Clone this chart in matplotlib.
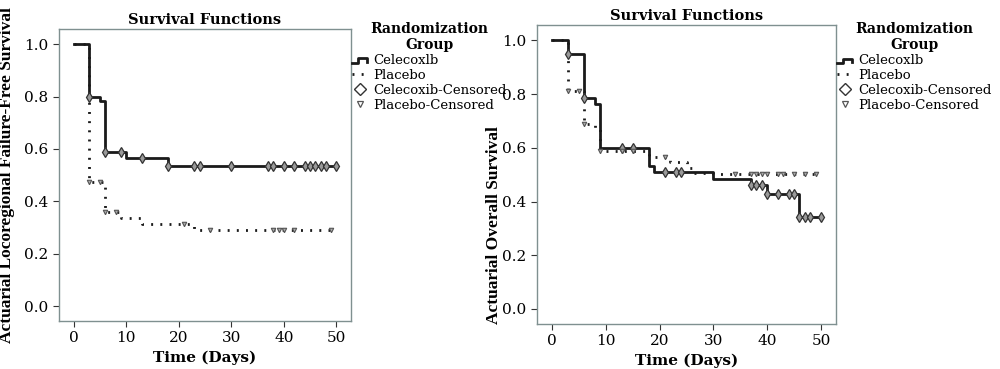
import numpy as np
import matplotlib as mpl
mpl.use('Agg')
import matplotlib.pyplot as plt
from matplotlib.lines import Line2D
from matplotlib.legend_handler import HandlerBase

# locoregional failure-free survival (left panel)
lr_cel_t = [0, 3, 5, 6, 10, 18, 50]
lr_cel_s = [1.0, 0.80, 0.783, 0.59, 0.565, 0.535, 0.535]
lr_cel_cens = [3, 6, 9, 13, 18, 23, 24, 30, 37, 38, 40, 42, 44, 45, 46, 47, 48, 50]
lr_pla_t = [0, 3, 6, 9, 13, 23, 49]
lr_pla_s = [1.0, 0.475, 0.36, 0.337, 0.315, 0.29, 0.29]
lr_pla_cens = [3, 5, 6, 8, 21, 26, 38, 39, 40, 42, 49]

# overall survival (right panel)
os_cel_t = [0, 3, 6, 8, 9, 18, 19, 30, 37, 40, 46, 50]
os_cel_s = [1.0, 0.95, 0.785, 0.764, 0.60, 0.531, 0.51, 0.485, 0.46, 0.428, 0.341, 0.341]
os_cel_cens = [3, 6, 13, 15, 21, 23, 24, 37, 38, 39, 40, 42, 44, 45, 46, 47, 48, 50]
os_pla_t = [0, 3, 6, 8, 9, 18, 22, 25, 26, 30, 49]
os_pla_s = [1.0, 0.812, 0.688, 0.67, 0.59, 0.567, 0.546, 0.525, 0.506, 0.502, 0.502]
os_pla_cens = [3, 5, 6, 9, 13, 15, 21, 34, 37, 38, 39, 40, 42, 43, 45, 47, 49]

legend_labels = ["Celecoxlb", "Placebo", "Celecoxib-Censored", "Placebo-Censored"]
ylabels = ["Actuarial Locoregional Failure-Free Survival", "Actuarial Overall Survival"]

plt.rcParams['font.family'] = ['DejaVu Serif']
line_col = "#1a1a1a"
mark_col = "#333333"
spine_col = "#7f9090"
dot_style = (0, (0.7, 2.6))


class StepHandler(HandlerBase):
    # little step icon like the SPSS legend
    def create_artists(self, legend, orig_handle, xdescent, ydescent, width, height, fontsize, trans):
        x0 = -xdescent
        y0 = -ydescent
        xs = [x0, x0 + 0.4 * width, x0 + 0.4 * width, x0 + width, x0 + width]
        ys = [y0 + 0.1 * height, y0 + 0.1 * height, y0 + 0.6 * height, y0 + 0.6 * height, y0 + 0.25 * height]
        ln = Line2D(xs, ys, color=line_col, lw=2.0, transform=trans)
        return [ln]


def step_at(t, s, tc):
    # survival value just after time tc
    idx = np.searchsorted(np.array(t), np.array(tc), side='right') - 1
    return np.array(s)[idx]


def panel(ax, ct, cs, ccens, pt, ps, pcens, ylab, ylab_xy, leg_y):
    ax.step(ct, cs, where='post', color=line_col, lw=2.0)
    ax.step(pt, ps, where='post', color=line_col, lw=2.0, linestyle=dot_style)
    ax.plot(ccens, step_at(ct, cs, ccens), linestyle='none', marker='d', ms=5,
            mfc='#9a9a9a', mec=mark_col, mew=0.9)
    ax.plot(pcens, step_at(pt, ps, pcens), linestyle='none', marker='v', ms=3.2,
            mfc='#aaaaaa', mec='#555555', mew=0.8)
    ax.set_xlim(-2.8, 52.8)
    ax.set_ylim(-0.056, 1.057)
    ax.set_xticks([0, 10, 20, 30, 40, 50])
    ax.set_yticks([0.0, 0.2, 0.4, 0.6, 0.8, 1.0])
    ax.set_yticklabels(["%.1f" % v for v in ax.get_yticks()])
    ax.tick_params(labelsize=11, length=4, width=0.8, color='#333333')
    for sp in ax.spines.values():
        sp.set_color(spine_col)
        sp.set_linewidth(1.0)
    ax.set_title("Survival Functions", fontsize=10.5, fontweight='bold', pad=4)
    ax.set_xlabel("Time (Days)", fontsize=11, fontweight='bold', labelpad=4)
    ax.set_ylabel(ylab, fontsize=12.5, fontweight='bold', family=['Liberation Serif', 'DejaVu Serif'])
    ax.yaxis.set_label_coords(*ylab_xy)
    handles = [
        Line2D([], [], color=line_col, lw=2.0),
        Line2D([], [], color=line_col, lw=2.0, linestyle=dot_style),
        Line2D([], [], linestyle='none', marker='D', ms=6.5, mfc='white', mec=mark_col, mew=1.0),
        Line2D([], [], linestyle='none', marker='v', ms=5, mfc='white', mec='#555555', mew=0.9),
    ]
    leg = ax.legend(handles, legend_labels, title="Randomization\nGroup",
                    loc='upper left', bbox_to_anchor=(1.0, leg_y), frameon=False,
                    fontsize=9.5, handlelength=1.1, handletextpad=0.45,
                    labelspacing=0.15, borderaxespad=0.1, borderpad=0.0,
                    handler_map={handles[0]: StepHandler()})
    leg.get_title().set_fontweight('bold')
    leg.get_title().set_fontsize(10)
    leg.get_title().set_multialignment('center')


fig = plt.figure(figsize=(10, 3.69), dpi=100)
ax1 = fig.add_axes([0.059, 0.130, 0.292, 0.791])
ax2 = fig.add_axes([0.537, 0.122, 0.299, 0.810])
panel(ax1, lr_cel_t, lr_cel_s, lr_cel_cens, lr_pla_t, lr_pla_s, lr_pla_cens, ylabels[0], (-0.151, 0.5), 1.03)
panel(ax2, os_cel_t, os_cel_s, os_cel_cens, os_pla_t, os_pla_s, os_pla_cens, ylabels[1], (-0.116, 0.331), 1.015)

# shrink the long left label until it fits the figure height like the original
fig.canvas.draw()
lab = ax1.yaxis.label
fs = lab.get_fontsize()
while lab.get_window_extent().height > 340 and fs > 6:
    fs -= 0.2
    lab.set_fontsize(fs)
    fig.canvas.draw()
ax2.yaxis.label.set_fontsize(fs)

fig.savefig("out.png", dpi=100)
